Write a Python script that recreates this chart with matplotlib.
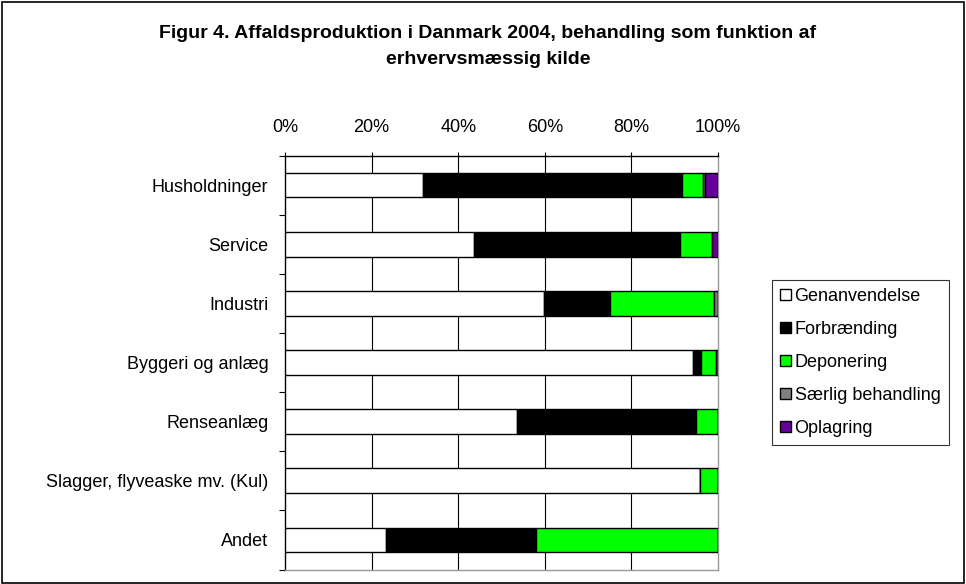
import numpy as np
import matplotlib
matplotlib.use("Agg")
import matplotlib.pyplot as plt
from matplotlib.patches import Rectangle

plt.rcParams['font.family'] = ['Liberation Sans', 'DejaVu Sans']

categories = ['Husholdninger', 'Service', 'Industri', 'Byggeri og anlæg',
              'Renseanlæg', 'Slagger, flyveaske mv. (Kul)', 'Andet']
series_names = ['Genanvendelse', 'Forbrænding', 'Deponering',
                'Særlig behandling', 'Oplagring']
genanvendelse = [31.9, 43.7, 59.7, 94.2, 53.5, 95.9, 23.3]
forbraending = [59.8, 47.5, 15.4, 1.9, 41.4, 0.0, 34.6]
deponering = [4.9, 7.5, 24.0, 3.4, 5.1, 4.1, 42.1]
saerlig = [0.5, 0.0, 0.9, 0.5, 0.0, 0.0, 0.0]
oplagring = [2.9, 1.3, 0.0, 0.0, 0.0, 0.0, 0.0]
x_ticks = [0, 20, 40, 60, 80, 100]
x_labels = ['0%', '20%', '40%', '60%', '80%', '100%']

colors = ['#FFFFFF', '#000000', '#00FF00', '#808080', '#660099']
series = [genanvendelse, forbraending, deponering, saerlig, oplagring]

fig = plt.figure(figsize=(9.66, 5.84), dpi=100)
fig.patches.append(Rectangle((0.002, 0.002), 0.996, 0.995, transform=fig.transFigure,
                             fill=False, edgecolor='black', linewidth=1.2))

fig.text(488 / 966, 1 - 33 / 584, 'Figur 4. Affaldsproduktion i Danmark 2004, behandling som funktion af',
         ha='center', va='center', fontsize=14, fontweight='bold')
fig.text(488 / 966, 1 - 60 / 584, 'erhvervsmæssig kilde',
         ha='center', va='center', fontsize=14, fontweight='bold')

ax = fig.add_axes([285 / 966, 1 - 569.5 / 584, 433 / 966, 414 / 584])
y = np.arange(len(categories))
left = np.zeros(len(categories))
handles = []
for name, vals, col in zip(series_names, series, colors):
    vals = np.array(vals)
    b = ax.barh(y, vals, left=left, height=0.42, color=col, edgecolor='black',
                linewidth=1.0, label=name, zorder=3)
    handles.append(b)
    left += vals

ax.set_xlim(0, 100)
ax.set_ylim(len(categories) - 0.5, -0.5)
ax.xaxis.tick_top()
ax.set_xticks(x_ticks)
ax.set_xticklabels(x_labels, fontsize=13)
ax.tick_params(axis='x', direction='out', length=3, pad=11, width=0.8)
ax.set_yticks(y)
ax.set_yticklabels(categories, fontsize=13)
ax.set_yticks(np.arange(len(categories) + 1) - 0.5, minor=True)
ax.tick_params(axis='y', which='major', length=0, pad=12)
ax.tick_params(axis='y', which='minor', direction='out', length=4, width=0.8)

for gx in x_ticks[1:-1]:
    ax.axvline(gx, color='black', linewidth=0.8, zorder=1)

ax.spines['top'].set_color('black')
ax.spines['left'].set_color('black')
ax.spines['right'].set_color('#999999')
ax.spines['bottom'].set_color('#999999')
for s in ax.spines.values():
    s.set_linewidth(1.0)

leg = fig.legend(handles=handles, labels=series_names, loc='upper left',
                 bbox_to_anchor=(772 / 966, 1 - 280 / 584), fontsize=13,
                 frameon=True, fancybox=False, handlelength=0.6, handleheight=0.6,
                 handletextpad=0.2, labelspacing=0.88, borderpad=0.45,
                 borderaxespad=0)
leg.get_frame().set_edgecolor('black')
leg.get_frame().set_linewidth(0.8)

fig.savefig('out.png', dpi=100)
